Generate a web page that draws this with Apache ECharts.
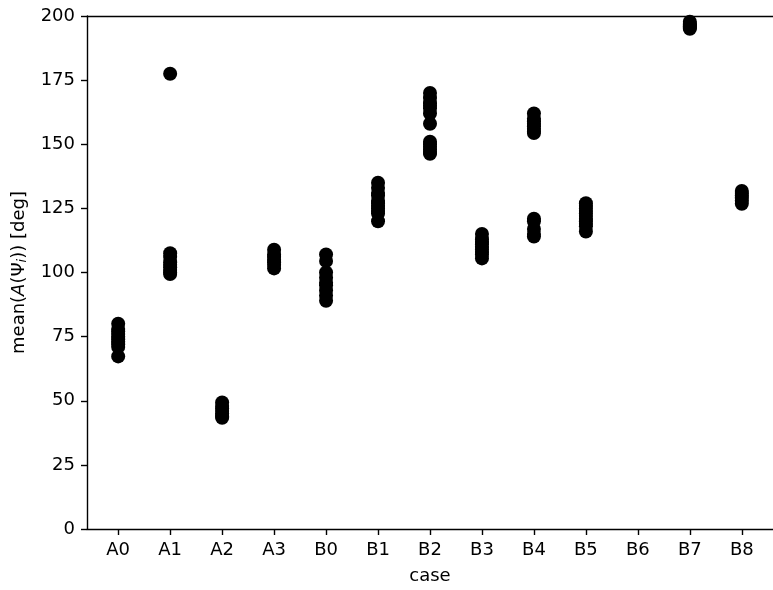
<!DOCTYPE html>
<html><head><meta charset="utf-8">
<script src="https://cdn.jsdelivr.net/npm/echarts@6/dist/echarts.min.js"></script>
<style>html,body{margin:0;padding:0;background:#fff}#c{width:773px;height:590px}</style>
</head><body><div id="c"></div>
<script>
const cases = ['A0','A1','A2','A3','B0','B1','B2','B3','B4','B5','B6','B7','B8'];
const yTicks = [0,25,50,75,100,125,150,175,200];
const vA0 = [80,78,77,76,75,74,73,72,71,67.3];
const vA1 = [177.5,107.5,106,104,103,102,101,100,99.4];
const vA2 = [49.3,48,47,46,45,44,43.4];
const vA3 = [108.9,107,106,105,104,103,101.6];
const vB0 = [107,104.5,100,98,96,95,93,91,89];
const vB1 = [135,133,131,130,128,127,126,125,124,123,120];
const vB2 = [170,168,166,165,164,162,158,151,150,149,148,147,146.3];
const vB3 = [115,113,112,111,110,109,108,107,105.5];
const vB4 = [162,160,159,158,157,156,155,154.4,121,120,117,115,114];
const vB5 = [127,126,125,124,123,122,121,120,119,118,116];
const vB6 = [];
const vB7 = [195,195.5,196,196.5,197,197.8];
const vB8 = [131.8,131,130,129,128,126.8];
const values = [vA0,vA1,vA2,vA3,vB0,vB1,vB2,vB3,vB4,vB5,vB6,vB7,vB8];

const pts = [];
values.forEach((arr,i)=>arr.forEach(v=>pts.push([i,v])));
const idx = cases.map((c,i)=>i);
const F = 'DejaVu Sans';
const FS = 18;
const chart = echarts.init(document.getElementById('c'));
chart.setOption({
  animation:false,
  backgroundColor:'#fff',
  grid:{left:87,right:-4,top:16,bottom:59.5,containLabel:false},
  xAxis:[{
    type:'value',min:-0.6,max:12.6,
    name:'case',nameLocation:'middle',nameGap:38,
    nameTextStyle:{fontFamily:F,fontSize:FS,color:'#000'},
    axisLine:{show:true,onZero:false,lineStyle:{color:'#000',width:1.4}},
    axisTick:{show:true,customValues:idx,length:6,lineStyle:{color:'#000',width:1.4}},
    axisLabel:{customValues:idx,formatter:v=>cases[Math.round(v)],fontFamily:F,fontSize:FS,color:'#000',margin:12},
    splitLine:{show:false}
  },{
    type:'value',position:'top',min:-0.6,max:12.6,
    axisLine:{show:true,onZero:false,lineStyle:{color:'#000',width:1.4}},
    axisTick:{show:false},axisLabel:{show:false},splitLine:{show:false}
  }],
  yAxis:{
    type:'value',min:0,max:200,interval:25,
    name:'{n|mean(}{a|A}{n|(Ψ}{s|i}{n|)) [deg]}',nameLocation:'middle',nameGap:58,
    nameTextStyle:{fontFamily:F,fontSize:FS,color:'#000',
      rich:{n:{fontFamily:F,fontSize:FS,color:'#000'},
            a:{fontFamily:F,fontSize:FS,fontStyle:'italic',color:'#000'},
            s:{fontFamily:F,fontSize:13,fontStyle:'italic',color:'#000',padding:[6,0,0,0]}}},
    axisLine:{show:true,onZero:false,lineStyle:{color:'#000',width:1.4}},
    axisTick:{show:true,length:6,lineStyle:{color:'#000',width:1.4}},
    axisLabel:{fontFamily:F,fontSize:FS,color:'#000',margin:12},
    splitLine:{show:false}
  },
  series:[{
    type:'scatter',xAxisIndex:0,data:pts,symbol:'circle',symbolSize:14,
    itemStyle:{color:'#000',opacity:1},clip:false
  }]
});
</script></body></html>
